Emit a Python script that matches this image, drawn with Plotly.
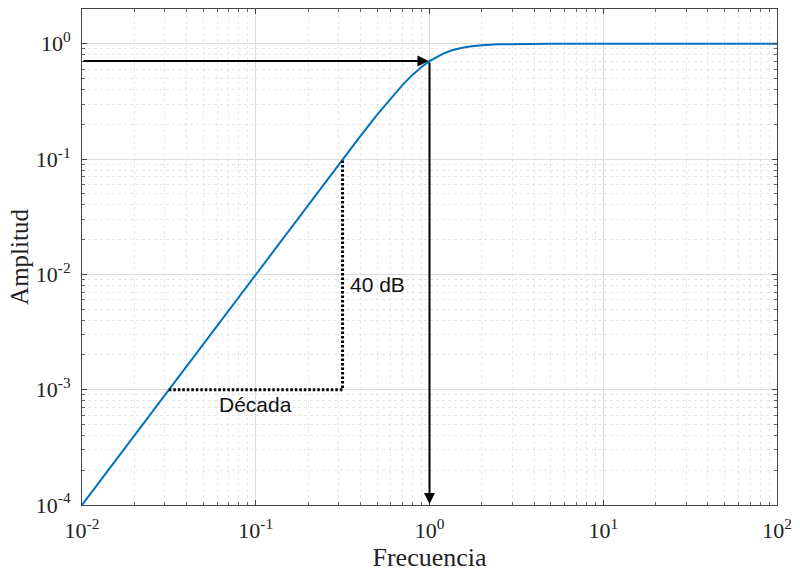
import numpy as np
import plotly.graph_objects as go

# Magnitude response of a second-order high-pass filter
frecuencia = [0.01, 0.03, 0.1, 0.2, 0.3, 0.4, 0.5, 0.6, 0.7, 0.8, 0.9, 1.0,
              1.1, 1.2, 1.35, 1.5, 1.7, 2.0, 2.5, 3.0, 4.0, 5.0, 10.0, 30.0, 100.0]
amplitud = [1.0e-4, 9.0e-4, 0.0100, 0.0400, 0.0896, 0.158, 0.243, 0.338,
            0.440, 0.539, 0.629, 0.707, 0.771, 0.821, 0.877, 0.914, 0.945,
            0.970, 0.987, 0.994, 0.998, 0.9992, 1.0, 1.0, 1.0]

# Cut-off point marked with arrows
corte_frec = 1.0
corte_amp = 0.707

# Slope triangle: one decade in frequency, 40 dB in amplitude
decada_frec = [0.0316, 0.316]
decada_amp = [0.001, 0.1]

x_ticks = [0.01, 0.1, 1, 10, 100]
x_labels = ["10<sup>-2</sup>", "10<sup>-1</sup>", "10<sup>0</sup>", "10<sup>1</sup>", "10<sup>2</sup>"]
y_ticks = [1e-4, 1e-3, 1e-2, 1e-1, 1]
y_labels = ["10<sup>-4</sup>", "10<sup>-3</sup>", "10<sup>-2</sup>", "10<sup>-1</sup>", "10<sup>0</sup>"]

# minor ticks at 2..9 within each decade
x_minor = [m * 10.0 ** e for e in range(-2, 2) for m in range(2, 10)]
y_minor = [m * 10.0 ** e for e in range(-4, 1) for m in range(2, 10)]

serif = "Liberation Serif, Times New Roman, serif"
sans = "Liberation Sans, Arial, sans-serif"

fig = go.Figure()

fig.add_trace(go.Scatter(
    x=frecuencia, y=amplitud, mode="lines",
    line=dict(color="#0072BD", width=2), hoverinfo="skip", showlegend=False))

# Dotted slope triangle
fig.add_trace(go.Scatter(
    x=[decada_frec[0], decada_frec[1], decada_frec[1]],
    y=[decada_amp[0], decada_amp[0], decada_amp[1]],
    mode="lines", line=dict(color="black", width=3, dash="2.5px,2px"),
    hoverinfo="skip", showlegend=False))

lx = np.log10
annotations = [
    # horizontal arrow at the cut-off amplitude
    dict(x=lx(corte_frec), y=lx(corte_amp), ax=lx(0.01), ay=lx(corte_amp),
         xref="x", yref="y", axref="x", ayref="y", text="", showarrow=True,
         arrowhead=2, arrowsize=1.1, arrowwidth=2, arrowcolor="black", standoff=1),
    # vertical arrow down to the frequency axis
    dict(x=lx(corte_frec), y=lx(1e-4), ax=lx(corte_frec), ay=lx(corte_amp),
         xref="x", yref="y", axref="x", ayref="y", text="", showarrow=True,
         arrowhead=2, arrowsize=1.1, arrowwidth=2, arrowcolor="black", standoff=1),
    dict(x=lx(decada_frec[1]), y=lx(0.0082), text="40 dB", showarrow=False,
         xref="x", yref="y", xanchor="left", xshift=5,
         font=dict(family=sans, size=21, color="#111")),
    dict(x=(lx(decada_frec[0]) + lx(decada_frec[1])) / 2, y=lx(decada_amp[0]),
         text="Década", showarrow=False, xref="x", yref="y", yanchor="top",
         yshift=-1, font=dict(family=sans, size=21, color="#111")),
]

axis_common = dict(
    type="log", showline=True, linecolor="#444", linewidth=1, mirror="ticks",
    ticks="inside", ticklen=5, tickcolor="#444",
    showgrid=True, gridcolor="#dcdcdc", gridwidth=1, zeroline=False,
    tickfont=dict(family=serif, size=22, color="#222"),
)

fig.update_layout(
    width=800, height=576,
    margin=dict(l=82, r=17, t=8, b=71),
    plot_bgcolor="white", paper_bgcolor="white",
    xaxis=dict(axis_common, range=[-2, 2], tickvals=x_ticks, ticktext=x_labels,
               ticklabelstandoff=6,
               minor=dict(tickvals=x_minor, ticks="inside", ticklen=3, tickcolor="#666",
                          showgrid=True, gridcolor="#e6e6e6", griddash="dot", gridwidth=1),
               title=dict(text="Frecuencia", standoff=1,
                          font=dict(family=serif, size=26, color="#222"))),
    yaxis=dict(axis_common, range=[-4, np.log10(2)], tickvals=y_ticks, ticktext=y_labels,
               ticklabelstandoff=6,
               minor=dict(tickvals=y_minor, ticks="inside", ticklen=3, tickcolor="#666",
                          showgrid=True, gridcolor="#e6e6e6", griddash="dot", gridwidth=1),
               title=dict(text="Amplitud", standoff=0,
                          font=dict(family=serif, size=25, color="#222"))),
    annotations=annotations,
)

fig.write_html("out.html")
